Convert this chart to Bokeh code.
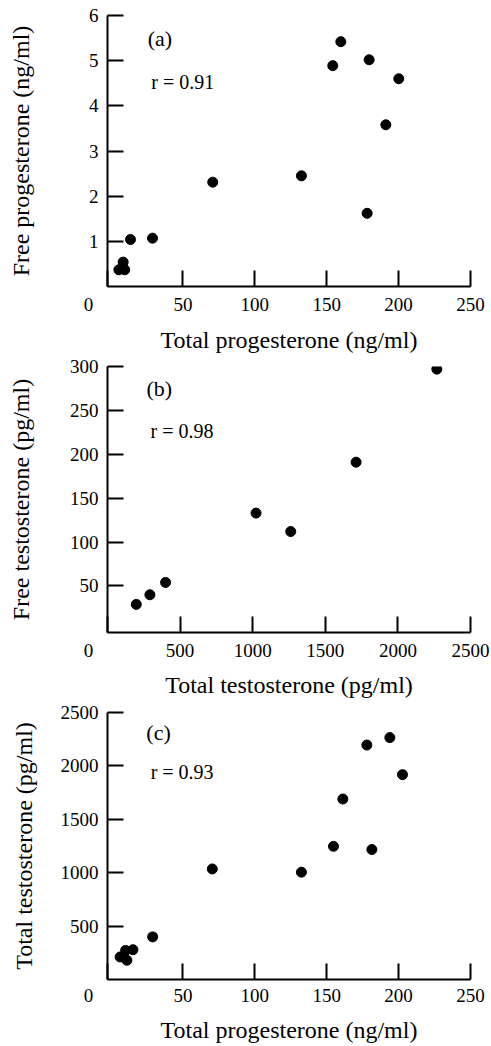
from bokeh.plotting import figure
from bokeh.models import Label, FixedTicker, Range1d
from bokeh.layouts import column
from bokeh.embed import file_html
from bokeh.resources import INLINE

FONT = "Liberation Serif"

# Panel (a): total vs free progesterone
a_x = [5.4, 9.5, 8.4, 13.5, 28.8, 70.7, 132.4, 154.2, 159.8, 179.5, 200.1, 191.1, 178.1]
a_y = [0.37, 0.37, 0.54, 1.04, 1.07, 2.31, 2.45, 4.89, 5.42, 5.02, 4.60, 3.58, 1.62]

# Panel (b): total vs free testosterone
b_x = [198, 292, 400, 1023, 1262, 1712, 2268]
b_y = [29, 40, 54, 133, 112, 191, 297]

# Panel (c): total progesterone vs total testosterone
c_x = [6.3, 10.1, 11.0, 15.2, 28.9, 70.4, 132.4, 154.7, 161.2, 177.9, 181.4, 193.9, 202.7]
c_y = [211, 272, 180, 279, 399, 1035, 1005, 1247, 1690, 2195, 1217, 2265, 1918]

a_xticks = [50, 100, 150, 200, 250]
a_yticks = [1, 2, 3, 4, 5, 6]
b_xticks = [500, 1000, 1500, 2000, 2500]
b_yticks = [50, 100, 150, 200, 250, 300]
c_xticks = [50, 100, 150, 200, 250]
c_yticks = [500, 1000, 1500, 2000, 2500]

NBSP = "\u00a0"


def make_panel(height, btop, bbottom, xr, yr, xticks, yticks, xs, ys,
               xlabel, ylabel, ylab_standoff, xtick_standoff, xlab_standoff,
               tag, tag_xy, rtext, r_xy):
    p = figure(width=491, height=height,
               x_range=Range1d(*xr), y_range=Range1d(*yr),
               output_backend="svg", toolbar_location=None,
               min_border_left=107, min_border_right=21,
               min_border_top=btop, min_border_bottom=bbottom)
    p.outline_line_color = None
    p.grid.visible = False
    p.background_fill_color = "white"
    p.border_fill_color = "white"

    # corner "0" label sits at the start of the x axis, shifted left
    p.xaxis.ticker = FixedTicker(ticks=[xr[0]] + xticks)
    p.xaxis.major_label_overrides = {xr[0]: "0" + NBSP * 8}
    p.yaxis.ticker = FixedTicker(ticks=yticks)
    for ax in (p.xaxis[0], p.yaxis[0]):
        ax.axis_line_width = 2
        ax.axis_line_color = "black"
        ax.major_tick_line_width = 2
        ax.major_tick_line_color = "black"
        ax.major_tick_in = 16
        ax.major_tick_out = 0
        ax.minor_tick_line_color = None
        ax.major_label_text_font = FONT
        ax.major_label_text_font_size = "19px"
        ax.major_label_text_color = "black"
        ax.axis_label_text_font = FONT
        ax.axis_label_text_font_size = "24px"
        ax.axis_label_text_font_style = "normal"
        ax.axis_label_text_color = "black"
    p.xaxis.major_label_standoff = xtick_standoff
    p.yaxis.major_label_standoff = 9
    p.xaxis.axis_label = xlabel
    p.yaxis.axis_label = ylabel
    p.yaxis.axis_label_standoff = ylab_standoff
    p.xaxis.axis_label_standoff = xlab_standoff

    p.scatter(xs, ys, size=10, color="black", marker="circle")

    p.add_layout(Label(x=tag_xy[0], y=tag_xy[1], text=tag, text_font=FONT,
                       text_font_size="22px", text_align="center",
                       text_baseline="middle", text_color="black"))
    p.add_layout(Label(x=r_xy[0], y=r_xy[1], text=rtext, text_font=FONT,
                       text_font_size="20px", text_align="left",
                       text_baseline="middle", text_color="black"))
    return p


pa = make_panel(357, 15, 71, (-2.5, 250), (0, 6), a_xticks, a_yticks, a_x, a_y,
                "Total progesterone (ng/ml)", "Free progesterone (ng/ml)", 52, 7, 9,
                "(a)", (34, 5.49), "r = 0.91", (28, 4.52))
pb = make_panel(344, 9, 69, (0, 2500), (-3, 300), b_xticks, b_yticks, b_x, b_y,
                "Total testosterone (pg/ml)", "Free testosterone (pg/ml)", 33, 7, 8,
                "(b)", (357, 275), "r = 0.98", (297, 227))
pc = make_panel(345, 11, 67, (-2.5, 250), (0, 2500), c_xticks, c_yticks, c_x, c_y,
                "Total progesterone (ng/ml)", "Total testosterone (pg/ml)", 21, 5, 8,
                "(c)", (33, 2312), "r = 0.93", (27.5, 1941))

layout = column(pa, pb, pc, spacing=0)
open("out.html", "w").write(file_html(layout, INLINE))
